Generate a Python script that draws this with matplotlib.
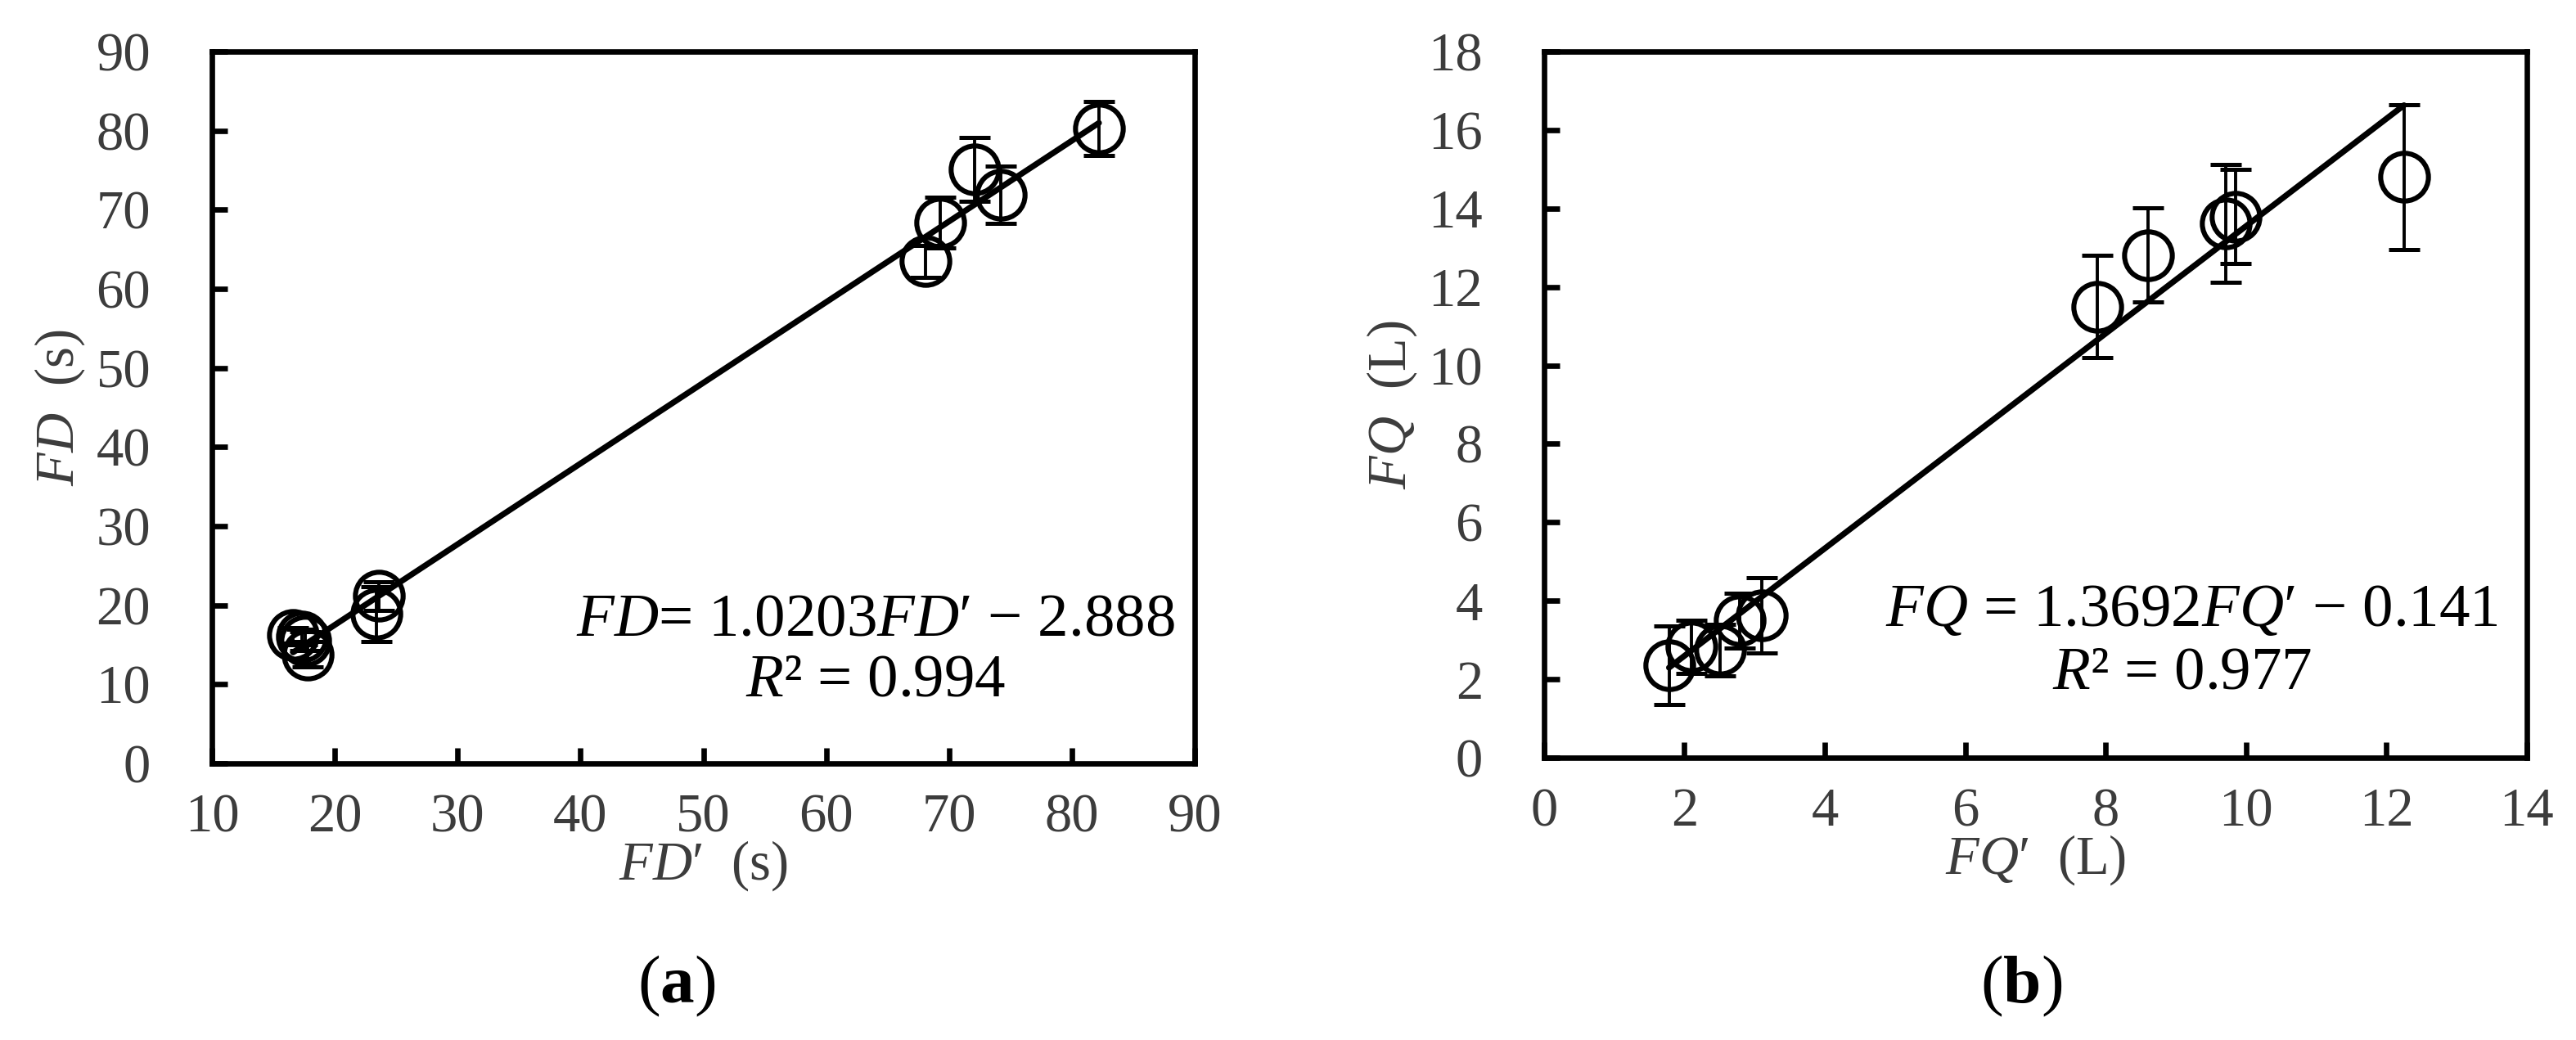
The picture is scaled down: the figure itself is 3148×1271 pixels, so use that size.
import numpy as np
import matplotlib.pyplot as plt

plt.rcParams['font.family'] = ['Liberation Serif', 'DejaVu Sans']
plt.rcParams['mathtext.fontset'] = 'custom'
plt.rcParams['mathtext.rm'] = 'Liberation Serif'
plt.rcParams['mathtext.it'] = 'Liberation Serif:italic'
plt.rcParams['mathtext.bf'] = 'Liberation Serif:bold'

# Panel (a): flow duration, measured vs predicted
fd_prime = [16.6, 17.3, 17.6, 17.8, 23.4, 23.6, 68.1, 69.3, 72.1, 74.2, 82.2]
fd = [16.2, 16.0, 15.5, 13.8, 18.9, 21.2, 63.5, 68.4, 75.1, 71.9, 80.3]
fd_err = [1.0, 1.0, 1.2, 1.6, 3.5, 1.8, 2.0, 3.2, 4.0, 3.6, 3.4]
slope_a, icpt_a = 1.0203, -2.888

# Panel (b): flow quantity
fq_prime = [1.78, 2.10, 2.51, 2.79, 3.10, 7.88, 8.60, 9.71, 9.85, 12.25]
fq = [2.36, 2.83, 2.75, 3.50, 3.63, 11.5, 12.81, 13.62, 13.79, 14.8]
fq_err = [1.0, 0.68, 0.66, 0.7, 0.95, 1.3, 1.2, 1.5, 1.2, 1.85]
slope_b, icpt_b = 1.3692, -0.141

tick_col = '#3c3c3c'

fig = plt.figure(figsize=(15.74, 6.355), dpi=200)
ax1 = fig.add_axes([0.0823, 0.2659, 0.3815, 0.6845])
ax2 = fig.add_axes([0.5994, 0.2714, 0.3815, 0.679])


def draw(ax, x, y, err, slope, icpt):
    ax.errorbar(x, y, yerr=err, fmt='none', ecolor='black', elinewidth=1.4,
                capsize=6.8, capthick=1.8, zorder=3)
    ax.plot(x, y, 'o', ms=21, mfc='none', mec='black', mew=2.2, zorder=4)
    xs = np.array([min(x), max(x)])
    ax.plot(xs, slope * xs + icpt, color='black', lw=2.6, zorder=5,
            solid_capstyle='round')
    for s in ax.spines.values():
        s.set_linewidth(2.4)
    ax.tick_params(axis='both', direction='in', length=6.8, width=2.4,
                   labelsize=24, labelcolor=tick_col)
    ax.tick_params(axis='y', pad=27)
    ax.tick_params(axis='x', pad=13)


draw(ax1, fd_prime, fd, fd_err, slope_a, icpt_a)
ax1.set_xlim(10, 90)
ax1.set_ylim(0, 90)
ax1.set_xticks(range(10, 91, 10))
ax1.set_yticks(range(0, 91, 10))
ax1.set_xlabel("$FD$′  (s)", fontsize=24, color=tick_col, labelpad=-2)
ax1.set_ylabel("$FD$  (s)", fontsize=24, color=tick_col, labelpad=4)
ax1.text(0.675, 0.2, "$FD$= 1.0203$FD$′ − 2.888", transform=ax1.transAxes,
         ha='center', va='center', fontsize=27)
ax1.text(0.675, 0.115, "$R$² = 0.994", transform=ax1.transAxes,
         ha='center', va='center', fontsize=27)

draw(ax2, fq_prime, fq, fq_err, slope_b, icpt_b)
ax2.set_xlim(0, 14)
ax2.set_ylim(0, 18)
ax2.set_xticks(range(0, 15, 2))
ax2.set_yticks(range(0, 19, 2))
ax2.set_xlabel("$FQ$′  (L)", fontsize=24, color=tick_col, labelpad=-2)
ax2.set_ylabel("$FQ$  (L)", fontsize=24, color=tick_col, labelpad=4)
ax2.text(0.659, 0.207, "$FQ$ = 1.3692$FQ$′ − 0.141", transform=ax2.transAxes,
         ha='center', va='center', fontsize=27)
ax2.text(0.649, 0.119, "$R$² = 0.977", transform=ax2.transAxes,
         ha='center', va='center', fontsize=27)

fig.text(827 / 3148, 1 - 1205 / 1271, r"($\mathbf{a}$)", ha='center',
         va='center', fontsize=30)
fig.text(2470 / 3148, 1 - 1205 / 1271, r"($\mathbf{b}$)", ha='center',
         va='center', fontsize=30)

fig.savefig('out.png', dpi=200)
